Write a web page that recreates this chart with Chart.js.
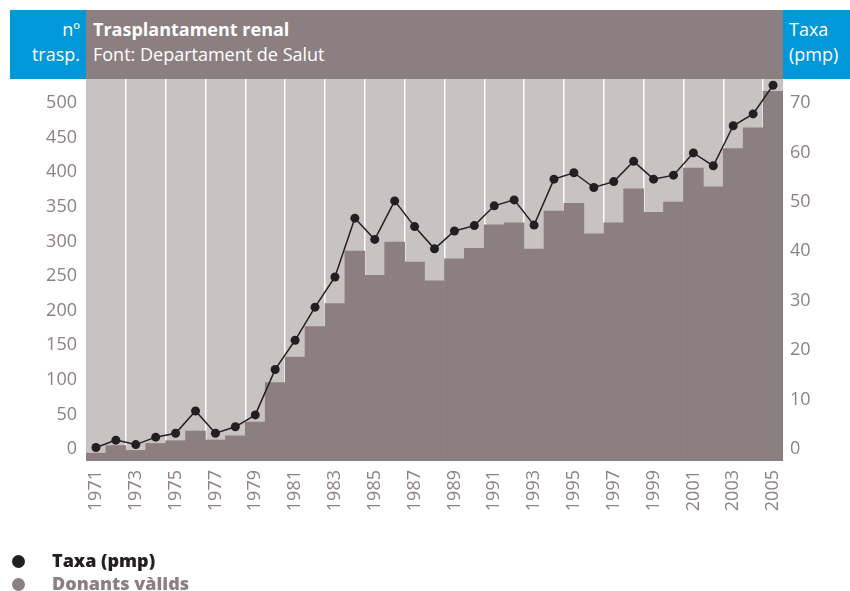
<!DOCTYPE html>
<html>
<head>
<meta charset="utf-8">
<script src="https://cdn.jsdelivr.net/npm/chart.js@4"></script>
<style>
body{margin:0;background:#fff;font-family:"Open Sans",sans-serif;}
#wrap{position:relative;width:850px;height:591px;overflow:hidden;}
#c{position:absolute;left:0;top:0;}
.box{position:absolute;top:10px;height:69px;color:#fff;font-size:18px;line-height:25px;}
#bl{left:10px;width:76px;background:#0098d8;text-align:right;}
#bl div{padding-right:6px;padding-top:7px;}
#bm{left:86px;width:697px;background:#8c7f81;}
#bm div{padding-left:7px;padding-top:7px;}
#br{left:783px;width:67px;background:#0098d8;}
#br div{padding-left:6px;padding-top:7px;}
.leg{position:absolute;left:0;font-size:18px;font-weight:bold;}
.leg span{position:absolute;left:12px;width:13px;height:13px;border-radius:50%;top:5px;}
.leg b{position:absolute;left:52px;top:-2px;white-space:nowrap;}
</style>
</head>
<body>
<div id="wrap">
<canvas id="c" width="850" height="591"></canvas>
<div class="box" id="bl"><div>nº<br>trasp.</div></div>
<div class="box" id="bm"><div><b>Trasplantament renal</b><br>Font: Departament de Salut</div></div>
<div class="box" id="br"><div>Taxa<br>(pmp)</div></div>
<div class="leg" style="top:550px;color:#231f20"><span style="background:#231f20"></span><b>Taxa (pmp)</b></div>
<div class="leg" style="top:573px;color:#8c7f81"><span style="background:#8c7f81"></span><b>Donants vàlids</b></div>
</div>
<script>
var years = [1971,1972,1973,1974,1975,1976,1977,1978,1979,1980,1981,1982,1983,1984,1985,1986,1987,1988,1989,1990,
             1991,1992,1993,1994,1995,1996,1997,1998,1999,2000,2001,2002,2003,2004,2005];
var donants = [-6,5,-2,8,12,26,13,19,39,96,133,177,210,286,251,299,270,243,275,290,
               324,327,289,344,355,311,327,376,342,357,406,379,434,464,517];
var taxa = [0.3,1.8,0.9,2.4,3.2,7.7,3.2,4.5,6.9,16.1,22.0,28.7,34.8,46.7,42.4,50.2,45.0,40.5,44.1,45.2,
            49.2,50.4,45.3,54.6,55.9,52.9,54.1,58.2,54.6,55.4,59.9,57.3,65.4,67.8,73.6];
var leftTicks = [0,50,100,150,200,250,300,350,400,450,500];
var rightTicks = [0,10,20,30,40,50,60,70];

var yMin = -17.3, yMax = 534.7;
var ratio = 70 / 500;
var txtColor = '#8d8183';
var tickFont = {family: 'Open Sans', size: 18};

var bgPlugin = {
    id: 'bg',
    beforeDraw: function(chart){
        var a = chart.chartArea;
        var ctx = chart.ctx;
        ctx.save();
        ctx.fillStyle = '#c9c2c3';
        ctx.fillRect(a.left, a.top, a.right - a.left, a.bottom - a.top);
        ctx.restore();
    }
};

new Chart(document.getElementById('c'), {
    type: 'bar',
    data: {
        labels: years,
        datasets: [{
            type: 'line',
            label: 'Taxa (pmp)',
            data: taxa,
            yAxisID: 'y2',
            borderColor: '#231f20',
            backgroundColor: '#231f20',
            borderWidth: 1.5,
            pointRadius: 4.5,
            pointBorderWidth: 0,
            tension: 0,
            order: 0
        }, {
            label: 'Donants vàlids',
            data: donants,
            yAxisID: 'y',
            backgroundColor: '#8c7f81',
            borderWidth: 0,
            barPercentage: 1,
            categoryPercentage: 1,
            base: yMin,
            order: 1
        }]
    },
    options: {
        responsive: false,
        animation: false,
        layout: {padding: {top: 79, left: 0, right: 0, bottom: 0}},
        plugins: {legend: {display: false}, tooltip: {enabled: false}},
        scales: {
            x: {
                offset: true,
                border: {display: false},
                grid: {
                    offset: true,
                    drawTicks: false,
                    lineWidth: 1.5,
                    color: function(ctx){
                        var i = ctx.index;
                        return (i > 0 && i < years.length && i % 2 == 0) ? '#ffffff' : 'rgba(0,0,0,0)';
                    }
                },
                ticks: {
                    autoSkip: false,
                    minRotation: 90,
                    maxRotation: 90,
                    padding: 9,
                    color: txtColor,
                    font: tickFont,
                    callback: function(v, i){
                        var y = years[i];
                        return y % 2 == 1 ? String(y) : '';
                    }
                },
                afterFit: function(s){ s.height = 130; }
            },
            y: {
                position: 'left',
                min: yMin,
                max: yMax,
                border: {display: false},
                grid: {display: false, drawTicks: false},
                ticks: {padding: 9, color: txtColor, font: tickFont},
                afterBuildTicks: function(s){
                    s.ticks = leftTicks.map(function(v){ return {value: v}; });
                },
                afterFit: function(s){ s.width = 86; }
            },
            y2: {
                position: 'right',
                min: yMin * ratio,
                max: yMax * ratio,
                border: {display: false},
                grid: {display: false, drawTicks: false},
                ticks: {padding: 7, color: txtColor, font: tickFont},
                afterBuildTicks: function(s){
                    s.ticks = rightTicks.map(function(v){ return {value: v}; });
                },
                afterFit: function(s){ s.width = 67; }
            }
        }
    },
    plugins: [bgPlugin]
});
</script>
</body>
</html>
